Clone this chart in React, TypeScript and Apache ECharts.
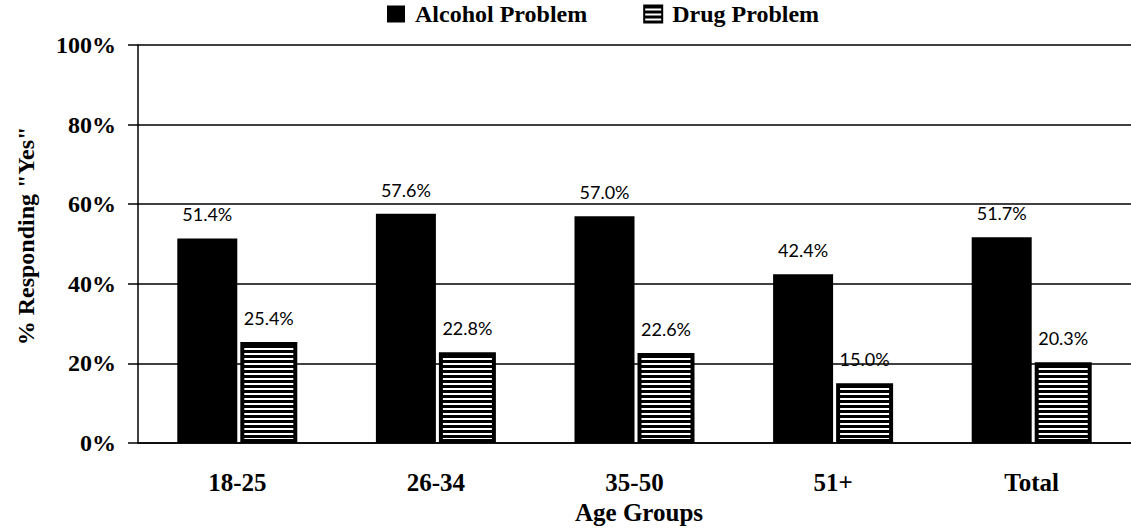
import React, { useEffect, useRef } from "react";
import * as echarts from "echarts";

const categories = ["18-25", "26-34", "35-50", "51+", "Total"];
const alcoholValues = [51.4, 57.6, 57.0, 42.4, 51.7];
const drugValues = [25.4, 22.8, 22.6, 15.0, 20.3];
const seriesNames = ["Alcohol Problem", "Drug Problem"];
const yTicks = { min: 0, max: 100, interval: 20 };
const xTitle = "Age Groups";
const yTitle = '% Responding "Yes"';

const SERIF = "'Liberation Serif', 'Times New Roman', serif";
const SANS = "Lato, 'Noto Sans', sans-serif";

function makeStripes(): HTMLCanvasElement {
  const c = document.createElement("canvas");
  c.width = 4;
  c.height = 5;
  const ctx = c.getContext("2d")!;
  ctx.fillStyle = "#000";
  ctx.fillRect(0, 0, 4, 5);
  ctx.fillStyle = "#fff";
  ctx.fillRect(0, 3, 4, 2);
  return c;
}

export default function App() {
  const ref = useRef<HTMLDivElement>(null);
  useEffect(() => {
    if (!ref.current) return;
    const chart = echarts.init(ref.current, null, { renderer: "svg" });
    const stripe = {
      image: makeStripes(),
      repeat: "repeat",
      imageWidth: 4,
      imageHeight: 5,
    } as any;
    const labelFmt = (p: any) => `${Number(p.value).toFixed(1)}%`;
    chart.setOption({
      animation: false,
      backgroundColor: "#fff",
      legend: {
        left: 387,
        top: 2,
        padding: 0,
        itemWidth: 18,
        itemHeight: 17,
        itemGap: 56,
        icon: "rect",
        textStyle: {
          fontFamily: SERIF,
          fontWeight: "bold",
          fontSize: 24,
          color: "#000",
          padding: [0, 0, 0, 5],
        },
        data: seriesNames,
      },
      grid: { left: 138, top: 45, width: 1003, height: 398 },
      xAxis: {
        type: "category",
        data: categories,
        axisLine: { show: true, lineStyle: { color: "#000", width: 1.5 } },
        axisTick: { show: false },
        axisLabel: {
          margin: 27,
          fontFamily: SERIF,
          fontWeight: "bold",
          fontSize: 25,
          color: "#000",
        },
      },
      yAxis: {
        type: "value",
        min: yTicks.min,
        max: yTicks.max,
        interval: yTicks.interval,
        axisLine: { show: true, lineStyle: { color: "#000", width: 1.5 } },
        axisTick: { show: true, length: 10, lineStyle: { color: "#000", width: 1.5 } },
        splitLine: { show: true, lineStyle: { color: "#000", width: 1.5 } },
        axisLabel: {
          margin: 22,
          formatter: "{value}%",
          fontFamily: SERIF,
          fontWeight: "bold",
          fontSize: 24,
          color: "#000",
        },
      },
      series: [
        {
          name: seriesNames[0],
          type: "bar",
          data: alcoholValues,
          barWidth: 60,
          itemStyle: { color: "#000" },
          label: {
            show: true,
            position: "top",
            distance: 15,
            formatter: labelFmt,
            fontFamily: SANS,
            fontSize: 18,
            color: "#000",
          },
        },
        {
          name: seriesNames[1],
          type: "bar",
          data: drugValues,
          barWidth: 57,
          barGap: "5%",
          itemStyle: { color: stripe, borderColor: "#000", borderWidth: 4 },
          label: {
            show: true,
            position: "top",
            distance: 15,
            formatter: labelFmt,
            fontFamily: SANS,
            fontSize: 18,
            color: "#000",
          },
        },
      ],
      graphic: [
        {
          type: "text",
          x: 639,
          y: 512,
          style: {
            text: xTitle,
            fontFamily: SERIF,
            fontWeight: "bold",
            fontSize: 25,
            fill: "#000",
            textAlign: "center",
            textVerticalAlign: "middle",
          },
        },
        {
          type: "text",
          x: 26,
          y: 236,
          rotation: Math.PI / 2,
          style: {
            text: yTitle,
            fontFamily: SERIF,
            fontWeight: "bold",
            fontSize: 24,
            fill: "#000",
            textAlign: "center",
            textVerticalAlign: "middle",
          },
        },
      ],
    });
    return () => chart.dispose();
  }, []);
  return (
    <div
      ref={ref}
      style={{ position: "absolute", left: 0, top: 0, width: 1131, height: 531, background: "#fff" }}
    />
  );
}
